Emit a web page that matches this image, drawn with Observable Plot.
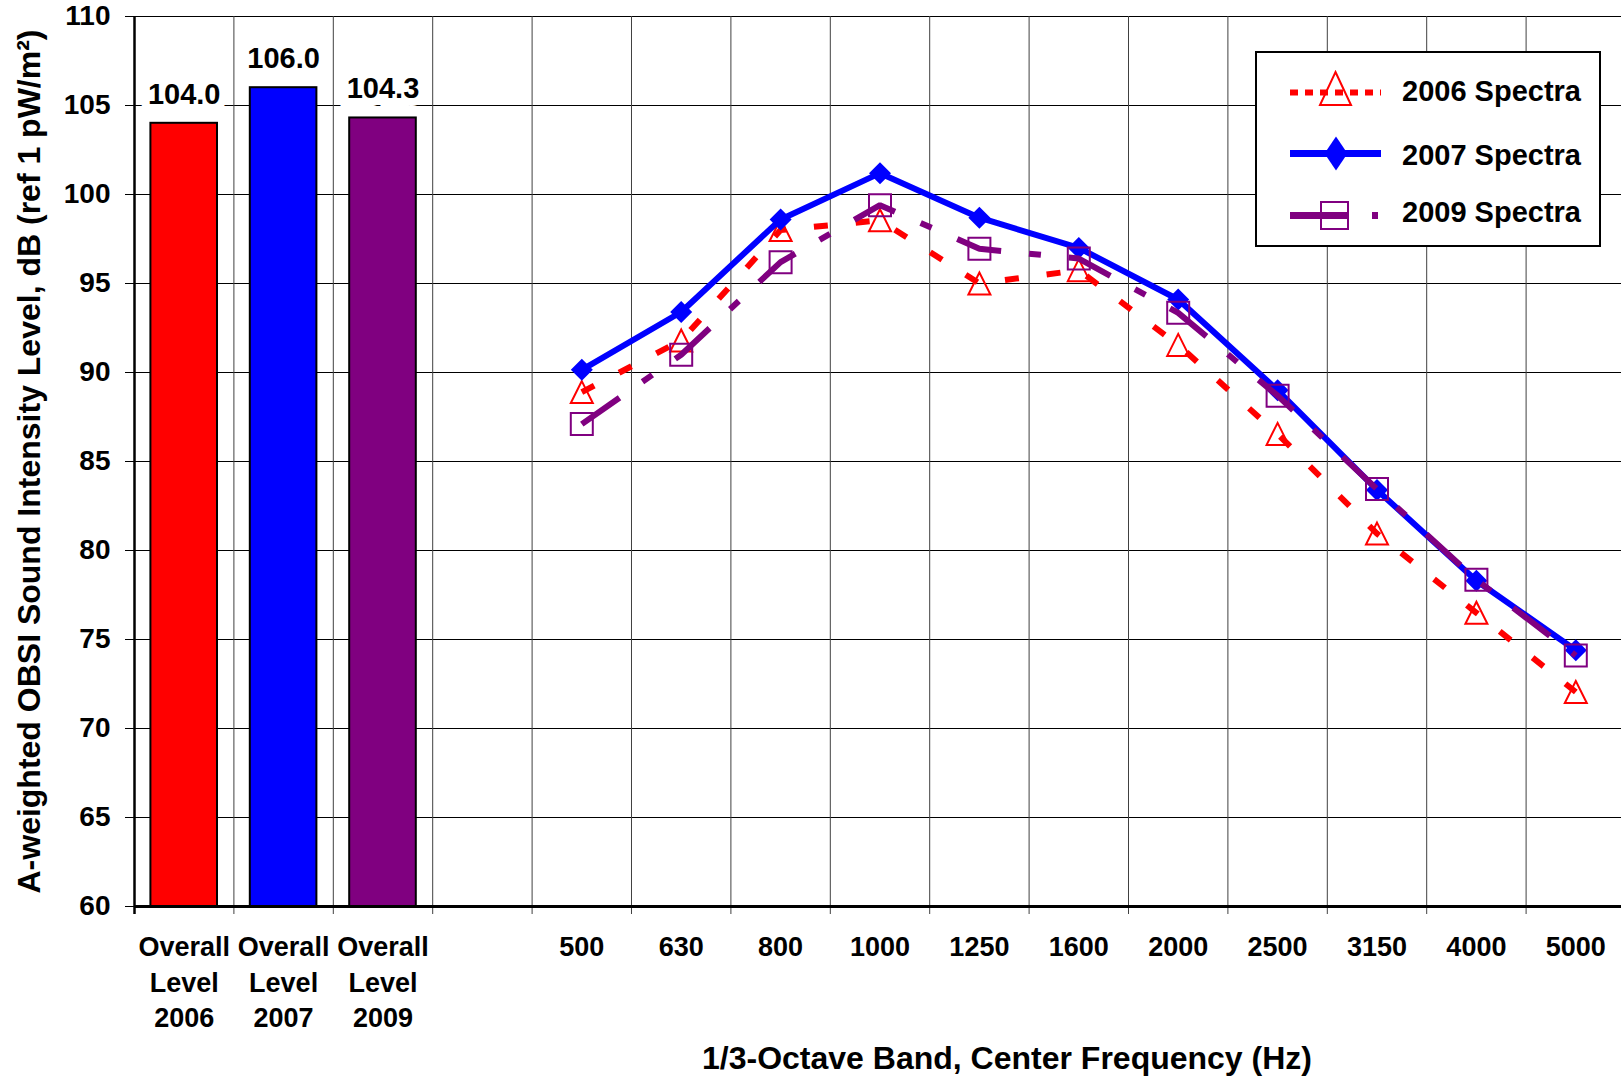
<!DOCTYPE html>
<html><head><meta charset="utf-8">
<script src="https://cdn.jsdelivr.net/npm/d3@7"></script>
<script src="https://cdn.jsdelivr.net/npm/@observablehq/plot@0.6"></script>
<style>
html,body{margin:0;padding:0;background:#fff;}
#wrap{position:relative;width:1621px;height:1078px;overflow:hidden;font-family:"Liberation Sans",Arial,sans-serif;font-weight:bold;}
#legend{position:absolute;left:1255px;top:51px;width:346px;height:196px;}
#legend svg{display:block;}
</style></head><body><div id="wrap"></div>
<script>
// ---- data ----
const overallCategories = ["Overall Level 2006", "Overall Level 2007", "Overall Level 2009"];
const overallValues = [104.0, 106.0, 104.3];
const overallColors = ["#ff0000", "#0000ff", "#800080"];
const gapCategory = " ";
const bands = ["500", "630", "800", "1000", "1250", "1600", "2000", "2500", "3150", "4000", "5000"];
const spectra2006 = [88.9, 91.8, 98.0, 98.55, 95.0, 95.75, 91.55, 86.55, 80.95, 76.5, 72.05];
const spectra2007 = [90.15, 93.4, 98.6, 101.2, 98.7, 97.0, 94.1, 89.0, 83.4, 78.3, 74.4];
const spectra2009 = [87.1, 91.0, 96.2, 99.4, 96.95, 96.4, 93.35, 88.7, 83.45, 78.35, 74.1];
const seriesNames = ["2006 Spectra", "2007 Spectra", "2009 Spectra"];
const yTicks = [60, 65, 70, 75, 80, 85, 90, 95, 100, 105, 110];
const yTitle = "A-weighted OBSI Sound Intensity Level, dB (ref 1 pW/m²)";
const xTitle = "1/3-Octave Band, Center Frequency (Hz)";

// ---- derived tables ----
const categories = [...overallCategories, gapCategory, ...bands];
const overallRows = overallCategories.map((c, i) => ({cat: c, value: overallValues[i], color: overallColors[i]}));
const rows = (vals) => bands.map((b, i) => ({cat: b, value: vals[i]}));
const s2006 = rows(spectra2006), s2007 = rows(spectra2007), s2009 = rows(spectra2009);

// ---- layout ----
const W = 1621, H = 1078;
const xRange = [134, 1625];
const step = (xRange[1] - xRange[0]) / categories.length;
const font = `"Liberation Sans", Arial, Helvetica, sans-serif`;

// Excel-like markers centered on their bounding box
const triSym = {draw(ctx, size) { const r = Math.sqrt(size / Math.PI); ctx.moveTo(0, -r); ctx.lineTo(r, r); ctx.lineTo(-r, r); ctx.closePath(); }};
const diaSym = {draw(ctx, size) { const r = Math.sqrt(size / Math.PI); ctx.moveTo(0, -r); ctx.lineTo(r, 0); ctx.lineTo(0, r); ctx.lineTo(-r, 0); ctx.closePath(); }};
const sqSym = {draw(ctx, size) { const r = Math.sqrt(size / Math.PI); ctx.rect(-r, -r, 2 * r, 2 * r); }};

const chart = Plot.plot({
  width: W, height: H,
  marginLeft: 134, marginRight: 0, marginTop: 16, marginBottom: 172,
  style: {fontFamily: font, fontSize: "27px", fontWeight: "bold", background: "#fff", color: "#000", overflow: "visible"},
  x: {type: "band", domain: categories, range: xRange, paddingInner: 0.33, paddingOuter: 0.165, round: false},
  y: {domain: [60, 110], label: null},
  color: {type: "identity"},
  marks: [
    Plot.gridY({ticks: yTicks, stroke: "#000", strokeOpacity: 1, strokeWidth: 1}),
    Plot.ruleX(categories.slice(0, -1), {x: d => d, dx: step / 2, stroke: "#404040", strokeWidth: 1, insetBottom: -8}),
    Plot.barY(overallRows, {x: "cat", y1: 60, y2: "value", fill: "color", stroke: "#000", strokeWidth: 2}),
    Plot.ruleY([60], {stroke: "#000", strokeWidth: 3}),
    Plot.ruleX([categories[0]], {x: d => d, dx: -step / 2, stroke: "#000", strokeWidth: 2.5, insetBottom: -8}),
    // 2006
    Plot.line(s2006, {x: "cat", y: "value", stroke: "#ff0000", strokeWidth: 6, strokeDasharray: "14,28", strokeLinecap: "butt", strokeLinejoin: "miter"}),
    Plot.dot(s2006, {x: "cat", y: "value", symbol: triSym, r: 11, stroke: "#ff0000", strokeWidth: 2, fill: "none"}),
    // 2007
    Plot.line(s2007, {x: "cat", y: "value", stroke: "#0000ff", strokeWidth: 6, strokeLinejoin: "round"}),
    Plot.dot(s2007, {x: "cat", y: "value", symbol: diaSym, r: 11, fill: "#0000ff", stroke: "none"}),
    // 2009
    Plot.line(s2009, {x: "cat", y: "value", stroke: "#800080", strokeWidth: 6, strokeDasharray: "46,28,12,28", strokeLinecap: "butt", strokeLinejoin: "miter"}),
    Plot.dot(s2009, {x: "cat", y: "value", symbol: sqSym, r: 11, stroke: "#800080", strokeWidth: 2, fill: "none"}),
    // bar value labels (white box behind, as in the original)
    Plot.text(overallRows, {x: "cat", y: "value", text: d => d.value.toFixed(1), dy: -29, lineAnchor: "middle", fontSize: 29, fontWeight: "bold", fill: "#000", stroke: "#fff", strokeWidth: 16, strokeLinejoin: "miter", paintOrder: "stroke"}),
    // axes
    Plot.axisY({ticks: yTicks, tickSize: 9, tickPadding: 15, label: null, fontSize: 28, fontWeight: "bold"}),
    Plot.axisX({tickSize: 0, tickPadding: 25, label: null, lineHeight: 1.3, fontSize: 27, fontWeight: "bold",
      tickFormat: d => d.startsWith("Overall") ? d.split(" ").join("\n") : d.trim()}),
    // titles
    Plot.text([xTitle], {text: d => d, frameAnchor: "bottom", dx: 129, dy: 152, textAnchor: "middle", lineAnchor: "middle", fontSize: 32, fontWeight: "bold"}),
    Plot.text([yTitle], {text: d => d, frameAnchor: "left", dx: -105, rotate: -90, textAnchor: "middle", lineAnchor: "middle", fontSize: 32, fontWeight: "bold"})
  ]
});

const wrap = document.getElementById("wrap");
wrap.appendChild(chart);

// ---- legend (inside the plot area, top right) ----
const legend = document.createElement("div");
legend.id = "legend";
legend.innerHTML = `
<svg width="346" height="196" xmlns="http://www.w3.org/2000/svg" font-family='${font.replace(/"/g, "")}' font-weight="bold">
  <rect x="1" y="1" width="344" height="194" fill="#fff" stroke="#000" stroke-width="2"/>
  <line x1="35" x2="126" y1="41.5" y2="41.5" stroke="#ff0000" stroke-width="6" stroke-dasharray="8,7"/>
  <path d="M80.5,21 L96,54 L65,54 Z" fill="none" stroke="#ff0000" stroke-width="2"/>
  <text x="147" y="40" dominant-baseline="central" font-size="29">${seriesNames[0]}</text>
  <line x1="35" x2="126" y1="102.5" y2="102.5" stroke="#0000ff" stroke-width="7"/>
  <path d="M81,85.5 L92.5,102.5 L81,119.5 L69.5,102.5 Z" fill="#0000ff"/>
  <text x="147" y="104" dominant-baseline="central" font-size="29">${seriesNames[1]}</text>
  <line x1="35" x2="93" y1="164.5" y2="164.5" stroke="#800080" stroke-width="7"/>
  <line x1="117" x2="123" y1="164.5" y2="164.5" stroke="#800080" stroke-width="7"/>
  <rect x="66" y="151" width="27" height="27" fill="none" stroke="#800080" stroke-width="2"/>
  <text x="147" y="161" dominant-baseline="central" font-size="29">${seriesNames[2]}</text>
</svg>`;
wrap.appendChild(legend);
</script>
</body></html>
